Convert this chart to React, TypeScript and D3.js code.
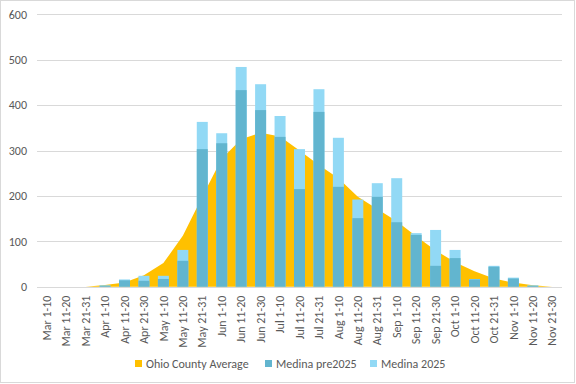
import React from 'react';
import * as d3 from 'd3';

const categories = [
  'Mar 1-10', 'Mar 11-20', 'Mar 21-31',
  'Apr 1-10', 'Apr 11-20', 'Apr 21-30',
  'May 1-10', 'May 11-20', 'May 21-31',
  'Jun 1-10', 'Jun 11-20', 'Jun 21-30',
  'Jul 1-10', 'Jul 11-20', 'Jul 21-31',
  'Aug 1-10', 'Aug 11-20', 'Aug 21-31',
  'Sep 1-10', 'Sep 11-20', 'Sep 21-30',
  'Oct 1-10', 'Oct 11-20', 'Oct 21-31',
  'Nov 1-10', 'Nov 11-20', 'Nov 21-30',
];

const ohioAverage = [
  0, 0, 0, 4, 9, 25, 52, 112, 198, 282, 325, 339, 331, 300,
  268, 239, 198, 171, 144, 111, 80, 54, 34, 18, 9, 3, 0,
];

const medinaPre2025 = [
  0, 0, 0, 2, 14, 13, 17, 57, 303, 316, 433, 389, 330, 215,
  385, 220, 151, 198, 142, 114, 46, 63, 16, 44, 18, 2, 0,
];

const medina2025 = [
  0, 0, 0, 3, 16, 24, 24, 81, 363, 338, 484, 446, 376, 303,
  435, 328, 192, 228, 239, 118, 125, 81, 17, 46, 20, 3, 0,
];

const yTicks = [0, 100, 200, 300, 400, 500, 600];

const W = 576;
const H = 384;
const left = 37;
const right = 562;
const top = 14.3;
const bottom = 286.7;

const yellow = '#FFC000';
const darkBlue = '#62B5CF';
const lightBlue = '#92D9F5';
const textColor = '#595959';
const font = 'Calibri, Carlito, Lato, "Liberation Sans", Arial, sans-serif';

export default function App() {
  const x = d3.scaleBand<string>().domain(categories).range([left, right]);
  const y = d3.scaleLinear().domain([0, 600]).range([bottom, top]);
  const cx = (c: string) => (x(c) as number) + x.bandwidth() / 2;
  const barW = 11;

  const area = d3.area<number>()
    .x((d, i) => cx(categories[i]))
    .y0(y(0))
    .y1(d => y(d));

  const legend = [
    { label: 'Ohio County Average', color: yellow, x: 135 },
    { label: 'Medina pre2025', color: darkBlue, x: 265 },
    { label: 'Medina 2025', color: lightBlue, x: 370 },
  ];

  return (
    <svg width={W} height={H} style={{ position: 'absolute', left: 0, top: 0 }} fontFamily={font}>
      <rect x={0} y={0} width={W} height={H} fill="#fff" />
      <rect x={0.5} y={0.5} width={W - 2} height={H - 2} fill="none" stroke="#d9d9d9" />

      {/* gridlines */}
      {yTicks.map(t => (
        <line key={t} x1={left} x2={right} y1={Math.round(y(t)) + 0.5} y2={Math.round(y(t)) + 0.5}
          stroke="#d9d9d9" strokeWidth={1} />
      ))}

      {/* y labels */}
      {yTicks.map(t => (
        <text key={'l' + t} x={27} y={y(t)} dy="0.35em" textAnchor="end" fontSize={12} fill={textColor}>{t}</text>
      ))}

      {/* Ohio average area */}
      <path d={area(ohioAverage) || ''} fill={yellow} />

      {/* Medina bars: 2025 behind, pre2025 in front */}
      {categories.map((c, i) => (
        <rect key={'b' + c} x={cx(c) - barW / 2} y={y(medina2025[i])} width={barW}
          height={y(0) - y(medina2025[i])} fill={lightBlue} />
      ))}
      {categories.map((c, i) => (
        <rect key={'a' + c} x={cx(c) - barW / 2} y={y(medinaPre2025[i])} width={barW}
          height={y(0) - y(medinaPre2025[i])} fill={darkBlue} />
      ))}

      {/* x labels */}
      {categories.map(c => (
        <text key={'x' + c} transform={`translate(${cx(c)},${bottom + 9}) rotate(-90)`}
          textAnchor="end" dy="0.35em" fontSize={12} fill={textColor}>{c}</text>
      ))}

      {/* legend */}
      {legend.map(l => (
        <g key={l.label} transform={`translate(${l.x},364)`}>
          <rect x={0} y={-4} width={7} height={7} fill={l.color} />
          <text x={11} y={0} dy="0.35em" fontSize={12} fill={textColor}>{l.label}</text>
        </g>
      ))}
    </svg>
  );
}
